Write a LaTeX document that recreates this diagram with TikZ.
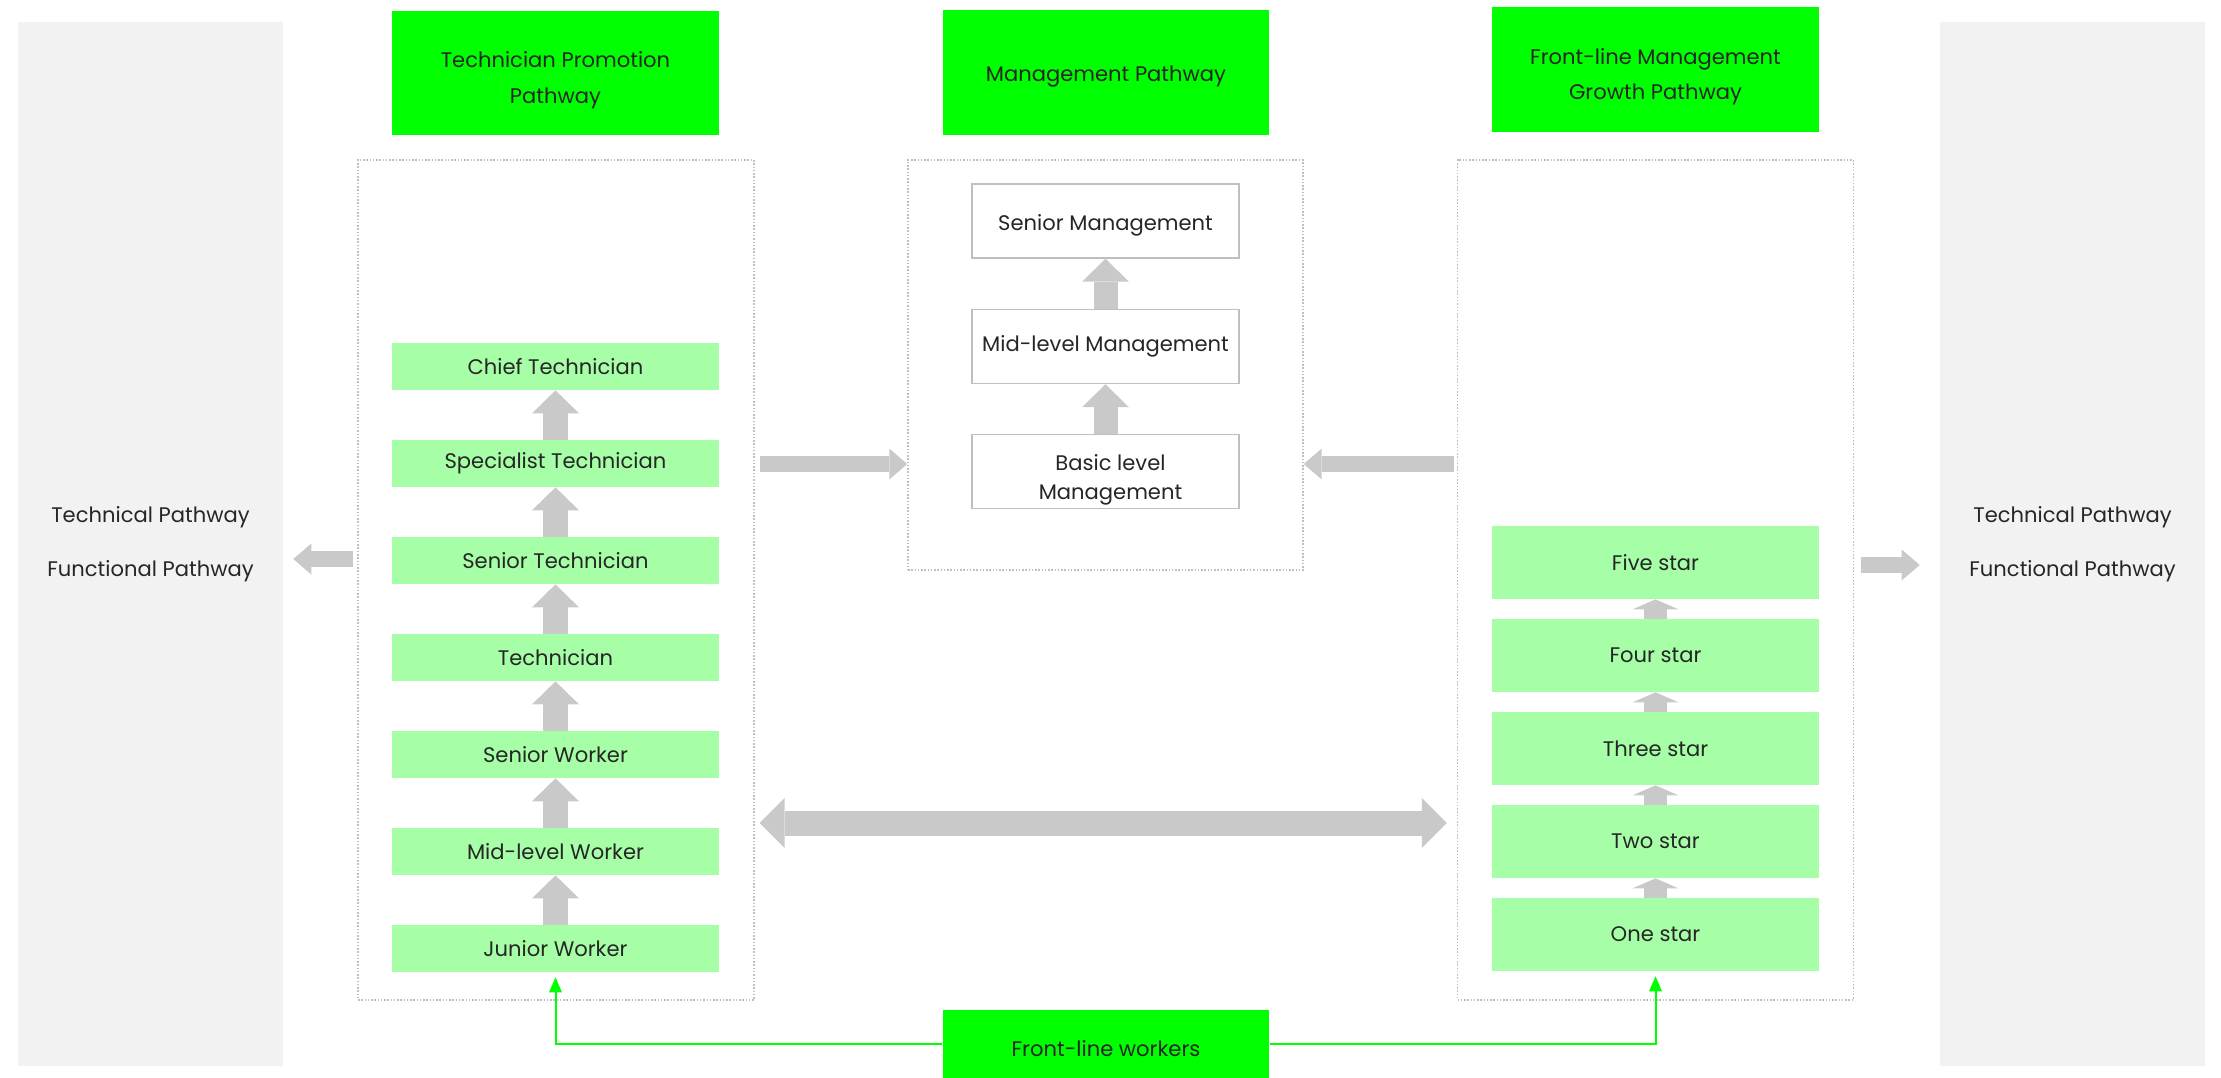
\documentclass[tikz,border=0pt]{standalone}
\usepackage{fontspec}
\setmainfont{Poppins}
\usetikzlibrary{arrows.meta}
\definecolor{hdrgreen}{HTML}{00FF00}
\definecolor{lvlgreen}{HTML}{A6FFA6}
\definecolor{arrgrey}{HTML}{C9C9C9}
\definecolor{pnlgrey}{HTML}{F2F2F2}
\definecolor{frmgrey}{HTML}{BFBFBF}

\begin{document}
\begin{tikzpicture}[x=0.02cm,y=-0.02cm,
  every node/.style={font=\fontsize{12}{20}\selectfont,text=black!85,inner sep=0pt,align=center},
  hdr/.style={fill=hdrgreen,minimum width=6.54cm,minimum height=2.5cm},
  twoline/.style={text height=37.5pt,text depth=3.2pt},
  oneline/.style={text height=13.5pt,text depth=3.2pt},
  frm/.style={draw=frmgrey,densely dotted,line width=0.03cm,minimum width=7.92cm},
  lvl/.style={fill=lvlgreen,minimum width=6.54cm,minimum height=0.94cm},
  star/.style={fill=lvlgreen,minimum width=6.54cm,minimum height=1.46cm},
  mgmt/.style={draw=frmgrey,line width=0.03cm,fill=white,minimum width=5.34cm,minimum height=1.48cm,
    font=\fontsize{12}{17}\selectfont},
  pnl/.style={fill=pnlgrey,minimum width=5.3cm,minimum height=20.9cm},
  uparr/.style={arrgrey,line width=0.5cm,-{Triangle[width=0.94cm,length=0.46cm,line width=0pt]}},
  stararr/.style={arrgrey,line width=0.46cm,-{Triangle[width=0.92cm,length=0.2cm,line width=0pt]}},
  sidearr/.style={arrgrey,line width=0.32cm,-{Triangle[width=0.62cm,length=0.36cm,line width=0pt]}},
  bothways/.style={arrgrey,line width=0.5cm,
    {Triangle[width=1cm,length=0.5cm,line width=0pt]}-{Triangle[width=1cm,length=0.5cm,line width=0pt]}},
  feed/.style={hdrgreen,line width=0.04cm,-{Triangle[width=0.26cm,length=0.3cm,line width=0pt]}}]
  \useasboundingbox (0,0) rectangle (2221,1078);
  % side panels
  \node[pnl] (lpnl) at (150.5,544) {Technical Pathway\\[11pt]Functional Pathway};
  \node[pnl] (rpnl) at (2072.5,544) {Technical Pathway\\[11pt]Functional Pathway};
  % pathway headers
  \node[hdr,twoline] (tpw) at (555.5,73) {Technician Promotion\\Pathway};
  \node[hdr,oneline] (mgp) at (1106,72.5) {Management Pathway};
  \node[hdr,twoline] (flg) at (1655.5,69.5) {Front-line Management\\Growth Pathway};
  % dotted frames
  \node[frm,minimum height=16.8cm] (tpfrm) at (556,580) {};
  \node[frm,minimum width=7.9cm,minimum height=8.2cm] (mgfrm) at (1105.5,365) {};
  \node[frm,minimum height=16.8cm] (flfrm) at (1655.5,580) {};
  % technician levels
  \node[lvl] (ct) at (555.5,366.5) {Chief Technician};
  \node[lvl] (sp) at (555.5,463.5) {Specialist Technician};
  \node[lvl] (st) at (555.5,560.5) {Senior Technician};
  \node[lvl] (tc) at (555.5,657.5) {Technician};
  \node[lvl] (sw) at (555.5,754.5) {Senior Worker};
  \node[lvl] (mw) at (555.5,851.5) {Mid-level Worker};
  \node[lvl] (jw) at (555.5,948.5) {Junior Worker};
  \draw[uparr] (jw.north) -- (mw.south);
  \draw[uparr] (mw.north) -- (sw.south);
  \draw[uparr] (sw.north) -- (tc.south);
  \draw[uparr] (tc.north) -- (st.south);
  \draw[uparr] (st.north) -- (sp.south);
  \draw[uparr] (sp.north) -- (ct.south);
  % management levels
  \node[mgmt,oneline] (sm) at (1105.5,221) {Senior Management};
  \node[mgmt] (mm) at (1105.5,346.5) {Mid-level Management};
  \node[mgmt,text height=35.5pt,text depth=3.2pt] (bm) at (1105.5,471.5)
    {\hspace{0.2cm}Basic level\\\hspace{0.2cm}Management};
  \draw[uparr,line width=0.48cm] (bm.north) -- (mm.south);
  \draw[uparr,line width=0.48cm] (mm.north) -- (sm.south);
  % star levels
  \node[star] (s5) at (1655.5,562.5) {Five star};
  \node[star] (s4) at (1655.5,655.5) {Four star};
  \node[star] (s3) at (1655.5,748.5) {Three star};
  \node[star] (s2) at (1655.5,841.5) {Two star};
  \node[star] (s1) at (1655.5,934.5) {One star};
  \draw[stararr] (s1.north) -- (s2.south);
  \draw[stararr] (s2.north) -- (s3.south);
  \draw[stararr] (s3.north) -- (s4.south);
  \draw[stararr] (s4.north) -- (s5.south);
  % links between the pathways
  \coordinate (mgin) at (0,464);
  \coordinate (lout) at (0,559);
  \coordinate (rout) at (0,565);
  \coordinate (swap) at (0,823);
  \draw[sidearr] ([xshift=0.1cm]tpfrm.east |- mgin) -- (mgfrm.west |- mgin);
  \draw[sidearr] ([xshift=-0.06cm]flfrm.west |- mgin) -- (mgfrm.east |- mgin);
  \draw[sidearr] ([xshift=-0.08cm]tpfrm.west |- lout) -- ([xshift=0.2cm]lpnl.east |- lout);
  \draw[sidearr] ([xshift=0.14cm]flfrm.east |- rout) -- ([xshift=-0.4cm]rpnl.west |- rout);
  \draw[bothways] ([xshift=0.1cm]tpfrm.east |- swap) -- ([xshift=-0.2cm]flfrm.west |- swap);
  % front-line workers feed both ladders
  \node[hdr,text height=14.7pt,text depth=1pt,minimum height=1.36cm] (flw) at (1106,1044) {Front-line workers};
  \draw[feed] (flw.west) -| ([yshift=-0.1cm]jw.south);
  \draw[feed] (flw.east) -| ([yshift=-0.1cm]s1.south);
\end{tikzpicture}
\end{document}
